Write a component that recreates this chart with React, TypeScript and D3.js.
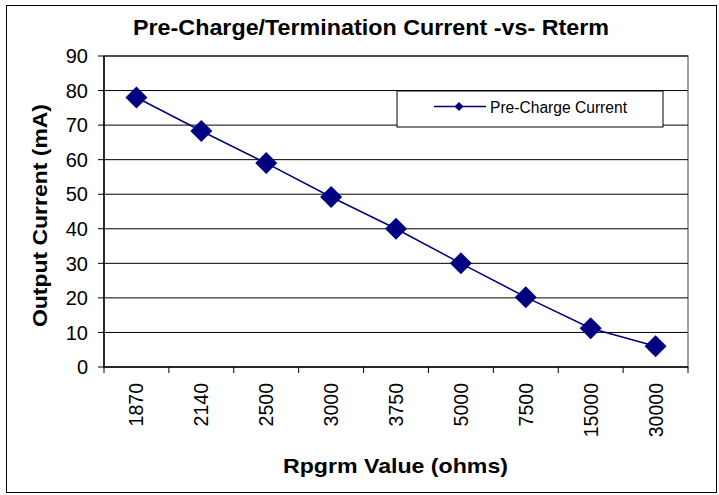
import React from "react";
import * as d3 from "d3";

const categories = ["1870", "2140", "2500", "3000", "3750", "5000", "7500", "15000", "30000"];
const preChargeCurrent = [78, 68.3, 59, 49.2, 40, 30, 20.2, 11.2, 6];
const yTicks = [0, 10, 20, 30, 40, 50, 60, 70, 80, 90];

const W = 719, H = 495;
const plot = { left: 104, right: 688, top: 56, bottom: 367 };
const navy = "#000080";

export default function App() {
  const x = d3.scaleBand<string>().domain(categories).range([plot.left, plot.right]).padding(0);
  const y = d3.scaleLinear().domain([0, 90]).range([plot.bottom, plot.top]);
  const pts: [number, number][] = categories.map((c, i) => [x(c)! + x.bandwidth() / 2, y(preChargeCurrent[i])]);
  const line = d3.line()(pts) || "";
  const diamond = (cx: number, cy: number, r: number) => `M${cx},${cy - r}L${cx + r},${cy}L${cx},${cy + r}L${cx - r},${cy}Z`;
  const arial = "Liberation Sans, Arial, sans-serif";
  return (
    <svg width={W} height={H} style={{ position: "absolute", left: 0, top: 0 }} fontFamily={arial}>
      <rect x={0} y={0} width={W} height={H} fill="#fff" />
      <rect x={6.5} y={5.5} width={710} height={487} fill="#fff" stroke="#000" strokeWidth={1} />
      <text x={371} y={35} textAnchor="middle" fontSize={21.5} fontWeight="bold" textLength={476} lengthAdjust="spacingAndGlyphs">Pre-Charge/Termination Current -vs- Rterm</text>
      {/* plot area border (gray) */}
      <rect x={plot.left} y={plot.top} width={plot.right - plot.left} height={plot.bottom - plot.top} fill="#fff" stroke="#808080" strokeWidth={1.5} />
      {yTicks.filter(t => t > 0).map(t => (
        <line key={t} x1={plot.left} x2={plot.right} y1={y(t)} y2={y(t)} stroke="#000" strokeWidth={1} />
      ))}
      {/* axes */}
      <line x1={plot.left} x2={plot.left} y1={plot.top} y2={plot.bottom} stroke="#000" strokeWidth={1.5} />
      <line x1={plot.left} x2={plot.right} y1={plot.bottom} y2={plot.bottom} stroke="#000" strokeWidth={1.5} />
      {yTicks.map(t => (
        <g key={t}>
          <line x1={plot.left - 6} x2={plot.left} y1={y(t)} y2={y(t)} stroke="#000" />
          <text x={88} y={y(t)} dy="0.36em" textAnchor="end" fontSize={20}>{t}</text>
        </g>
      ))}
      {categories.map((c, i) => (
        <line key={"t" + i} x1={x(c)!} x2={x(c)!} y1={plot.bottom} y2={plot.bottom + 6} stroke="#000" />
      ))}
      <line x1={plot.right} x2={plot.right} y1={plot.bottom} y2={plot.bottom + 6} stroke="#000" />
      {categories.map(c => {
        const cx = x(c)! + x.bandwidth() / 2;
        return (
          <text key={c} transform={`translate(${cx},383) rotate(-90)`} dy="0.36em" textAnchor="end" fontSize={19.5}>{c}</text>
        );
      })}
      <text transform={`translate(47,215.5) rotate(-90)`} textAnchor="middle" fontSize={21} fontWeight="bold" textLength={223} lengthAdjust="spacingAndGlyphs">Output Current (mA)</text>
      <text x={395.5} y={472.5} textAnchor="middle" fontSize={20.5} fontWeight="bold" textLength={225} lengthAdjust="spacingAndGlyphs">Rpgrm Value (ohms)</text>
      <path d={line} fill="none" stroke={navy} strokeWidth={1.5} />
      {pts.map((p, i) => (
        <path key={i} d={diamond(p[0], p[1], 11)} fill={navy} />
      ))}
      {/* legend */}
      <rect x={397} y={91} width={266} height={36} fill="#fff" stroke="#000" strokeWidth={1} />
      <line x1={434} x2={486} y1={106.5} y2={106.5} stroke={navy} strokeWidth={1.5} />
      <path d={diamond(459, 106.5, 4.5)} fill={navy} />
      <text x={490} y={113} fontSize={16} textLength={137} lengthAdjust="spacingAndGlyphs">Pre-Charge Current</text>
    </svg>
  );
}
